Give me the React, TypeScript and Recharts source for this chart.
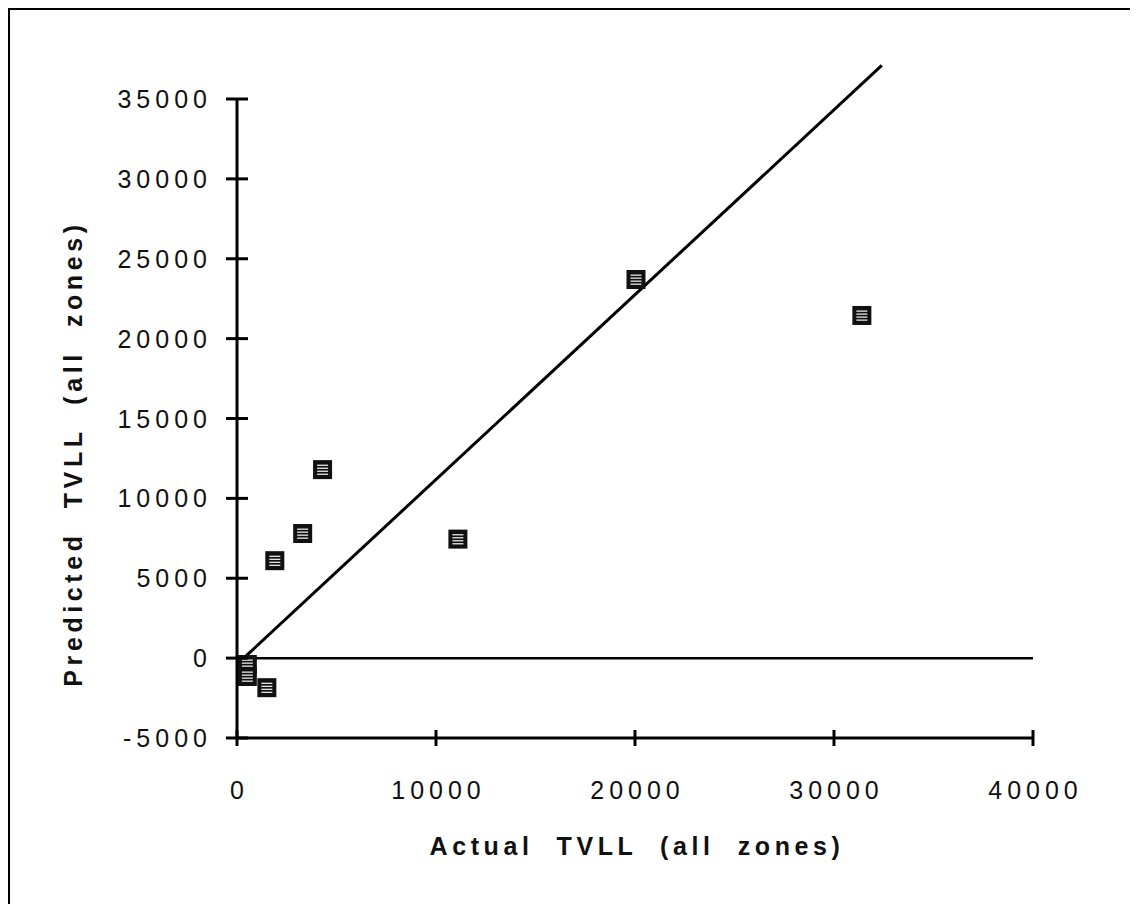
import { ScatterChart, Scatter, XAxis, YAxis, ReferenceLine, Label } from "recharts";

const actualTvll = [520, 520, 1500, 1900, 3300, 4300, 11100, 20050, 31400];
const predictedTvll = [-400, -1150, -1850, 6100, 7800, 11800, 7450, 23700, 21450];
const xTicks = [0, 10000, 20000, 30000, 40000];
const yTicks = [-5000, 0, 5000, 10000, 15000, 20000, 25000, 30000, 35000];
const fitLine = [
  { x: 350, y: 17 },
  { x: 32400, y: 37100 }
];

const points = actualTvll.map((x, i) => ({ x, y: predictedTvll[i] }));

const FONT = '"Liberation Sans", Arial, Helvetica, sans-serif';

function XTick(props: any) {
  const { x, y, payload } = props;
  return (
    <g>
      <line x1={x} x2={x} y1={y - 8} y2={y + 8} stroke="#000" strokeWidth={3} />
      <text x={x + 2.5} y={y + 52} textAnchor="middle" dominantBaseline="central" fontSize={25} letterSpacing={5} fill="#111" fontFamily={FONT}>
        {payload.value}
      </text>
    </g>
  );
}

function YTick(props: any) {
  const { x, y, payload } = props;
  return (
    <g>
      <line x1={x - 11} x2={x + 11} y1={y} y2={y} stroke="#000" strokeWidth={3} />
      <text x={x - 25} y={y} textAnchor="end" dominantBaseline="central" fontSize={25} letterSpacing={5} fill="#111" fontFamily={FONT}>
        {payload.value}
      </text>
    </g>
  );
}

function Marker(props: any) {
  const { cx, cy } = props;
  const s = 19;
  const left = cx - s / 2;
  const top = cy - s / 2;
  return (
    <g>
      <rect x={left} y={top} width={s} height={s} fill="#111" />
      {[4.5, 7.5, 10.5, 13.5].map((d) => (
        <rect key={d} x={left + 4} y={top + d} width={s - 8} height={1.3} fill="#e6e6e6" />
      ))}
    </g>
  );
}

function XTitle(props: any) {
  const { viewBox } = props;
  return (
    <text x={viewBox.x + viewBox.width / 2 + 2} y={viewBox.y + 108} textAnchor="middle" dominantBaseline="central" fontSize={25} fontWeight="bold" letterSpacing={4.6} fill="#111" fontFamily={FONT} style={{ whiteSpace: "pre" }}>
      Actual  TVLL  (all  zones)
    </text>
  );
}

function YTitle(props: any) {
  const { viewBox } = props;
  const cx = viewBox.x + 36;
  const cy = viewBox.y + viewBox.height / 2 + 35;
  return (
    <text x={cx} y={cy} transform={`rotate(-90 ${cx} ${cy})`} textAnchor="middle" dominantBaseline="central" fontSize={25} fontWeight="bold" letterSpacing={4.6} fill="#111" fontFamily={FONT} style={{ whiteSpace: "pre" }}>
      Predicted  TVLL  (all  zones)
    </text>
  );
}

export default function App() {
  return (
    <div style={{ borderTop: "2px solid #000", borderLeft: "2px solid #000", width: 1120, height: 894, background: "#fff" }}>
      <ScatterChart width={1120} height={894} margin={{ top: 89, right: 97, bottom: 66, left: 27 }}>
        <XAxis
          type="number"
          dataKey="x"
          domain={[0, 40000]}
          ticks={xTicks}
          height={100}
          axisLine={{ stroke: "#000", strokeWidth: 3 }}
          tickLine={false}
          tickSize={0}
          tickMargin={0}
          tick={<XTick />}
          allowDataOverflow
        >
          <Label content={<XTitle />} />
        </XAxis>
        <YAxis
          type="number"
          dataKey="y"
          domain={[-5000, 35000]}
          ticks={yTicks}
          width={200}
          axisLine={{ stroke: "#000", strokeWidth: 3 }}
          tickLine={false}
          tickSize={0}
          tickMargin={0}
          tick={<YTick />}
          allowDataOverflow
        >
          <Label content={<YTitle />} />
        </YAxis>
        <ReferenceLine y={0} stroke="#000" strokeWidth={2.5} />
        <ReferenceLine segment={fitLine} stroke="#000" strokeWidth={3} ifOverflow="visible" />
        <Scatter data={points} shape={<Marker />} isAnimationActive={false} />
      </ScatterChart>
    </div>
  );
}
